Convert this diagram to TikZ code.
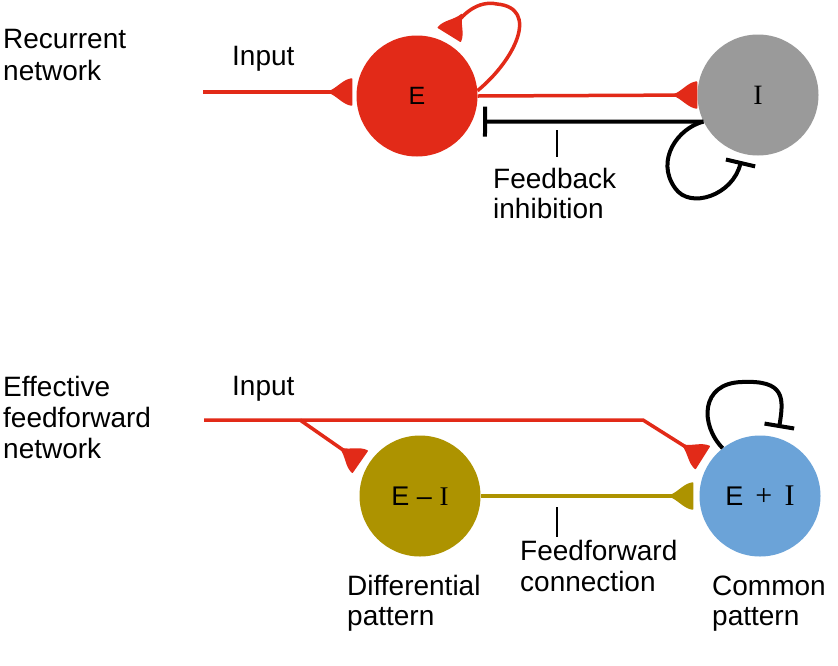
\documentclass[tikz,border=0pt]{standalone}
\usepackage{fontspec}
\setmainfont{Liberation Sans}
\newfontfamily\serifface{Liberation Serif}
\usetikzlibrary{arrows.meta}
\pgfdeclarearrow{
  name = Syn,
  parameters = {\the\pgfarrowlength,\the\pgfarrowwidth},
  setup code = {
    \pgfarrowssettipend{0pt}
    \pgfarrowssetbackend{-\pgfarrowlength}
    \pgfarrowssetlineend{-.3\pgfarrowlength}
    \pgfarrowssetvisualbackend{-\pgfarrowlength}
    \pgfarrowshullpoint{0pt}{.5\pgfarrowwidth}
    \pgfarrowshullpoint{0pt}{-.5\pgfarrowwidth}
    \pgfarrowshullpoint{-\pgfarrowlength}{0pt}
    \pgfarrowssavethe\pgfarrowlength
    \pgfarrowssavethe\pgfarrowwidth
  },
  drawing code = {
    \pgfsetlinewidth{1.5pt}
    \pgfsetroundjoin
    \pgfpathmoveto{\pgfqpoint{-\pgfarrowlength}{0pt}}
    \pgfpathcurveto{\pgfqpoint{-.62\pgfarrowlength}{.12\pgfarrowwidth}}{\pgfqpoint{-.4\pgfarrowlength}{.45\pgfarrowwidth}}{\pgfqpoint{-.75pt}{.5\pgfarrowwidth}}
    \pgfpathlineto{\pgfqpoint{-.75pt}{-.5\pgfarrowwidth}}
    \pgfpathcurveto{\pgfqpoint{-.4\pgfarrowlength}{-.45\pgfarrowwidth}}{\pgfqpoint{-.62\pgfarrowlength}{-.12\pgfarrowwidth}}{\pgfqpoint{-\pgfarrowlength}{0pt}}
    \pgfpathclose
    \pgfusepathqfillstroke
  },
  defaults = {length = 24pt, width = 26pt}
}
\definecolor{ered}{HTML}{E22A18}
\definecolor{igray}{HTML}{9A9A9A}
\definecolor{oliveg}{HTML}{AD9300}
\definecolor{eblue}{HTML}{6BA3D8}
\begin{document}
\begin{tikzpicture}[x=1pt,y=-1pt,
  neuron/.style={circle, minimum size=121pt, inner sep=0pt, draw=none},
  lbl/.style={anchor=base west, inner sep=0pt, font=\fontsize{28}{31}\selectfont},
  exc/.style={line width=3.5pt, -{Syn[length=24pt,width=26pt]}},
  inh/.style={line width=4pt, black, -{Bar[width=30pt]}},
  tick/.style={line width=2pt, black}
]
\useasboundingbox (0,0) rectangle (838,665);
\fill[white] (0,0) rectangle (838,665);

% ---------- Recurrent network ----------
\node[neuron, fill=ered, font=\fontsize{25}{25}\selectfont] (E) at (417,96) {E};
\node[neuron, fill=igray, font=\serifface\fontsize{28}{28}\selectfont] (I) at (758,95) {I};

\node[lbl] (rec1) at (3,48) {Recurrent};
\node[lbl] (rec2) at (3,80) {network};
\node[lbl] (inp1) at (232,65) {Input};

\coordinate (inA) at (203,92);
\draw[exc, ered, shorten >=4pt] (inA) -- (inA -| E.west);
\draw[exc, ered] (E.east) -- (I.west);

\coordinate (eloopEnd) at (449,35);
\draw[exc, ered] (E.5) .. controls (515,60) and (540,8) .. (497,4)
  .. controls (478,0) and (462,14) .. (eloopEnd);

\coordinate (fbE) at (483,121.5);
\draw[inh] (I.206) -- (fbE);

\coordinate (iloopEnd) at (741,161);
\draw[inh] (I.206) .. controls (678,128) and (655,160) .. (675,188)
  .. controls (690,210) and (733,195) .. (iloopEnd);

\coordinate (tk1) at (557,130);
\coordinate (tk2) at (557,157);
\draw[tick] (tk1) -- (tk2);
\node[lbl] (fb1) at (493,188) {Feedback};
\node[lbl] (fb2) at (493,218) {inhibition};

% ---------- Effective feedforward network ----------
\node[neuron, fill=oliveg, font=\fontsize{27}{27}\selectfont] (EmI) at (420,496) {E – {\serifface I}};
\node[neuron, fill=eblue, font=\fontsize{27}{27}\selectfont] (EpI) at (760,496) {E\, {\serifface\fontsize{30}{30}\selectfont +\, I}};

\node[lbl] (eff1) at (3,396) {Effective};
\node[lbl] (eff2) at (3,427) {feedforward};
\node[lbl] (eff3) at (3,458) {network};
\node[lbl] (inp2) at (232,395) {Input};

\coordinate (inB) at (204,420);
\coordinate (brB) at (300,420);
\coordinate (bendB) at (643,420);
\draw[exc, ered, shorten >=8pt] (inB) -- (bendB) -- (EpI.146);
\draw[exc, ered, shorten >=8pt] (brB) -- (EmI.151);

\draw[exc, oliveg, shorten >=6pt] (EmI.east) -- (EpI.west);

\coordinate (eploopEnd) at (779,428);
\draw[inh] (EpI.128) .. controls (700,425) and (700,383) .. (742,382)
  .. controls (785,380) and (784,398) .. (eploopEnd);

\coordinate (tk3) at (557,507);
\coordinate (tk4) at (557,537);
\draw[tick] (tk3) -- (tk4);
\node[lbl] (ff1) at (520,560) {Feedforward};
\node[lbl] (ff2) at (520,591) {connection};

\node[lbl] (dp1) at (347,595) {Differential};
\node[lbl] (dp2) at (347,625) {pattern};
\node[lbl] (cp1) at (712,595) {Common};
\node[lbl] (cp2) at (712,625) {pattern};
\end{tikzpicture}
\end{document}
